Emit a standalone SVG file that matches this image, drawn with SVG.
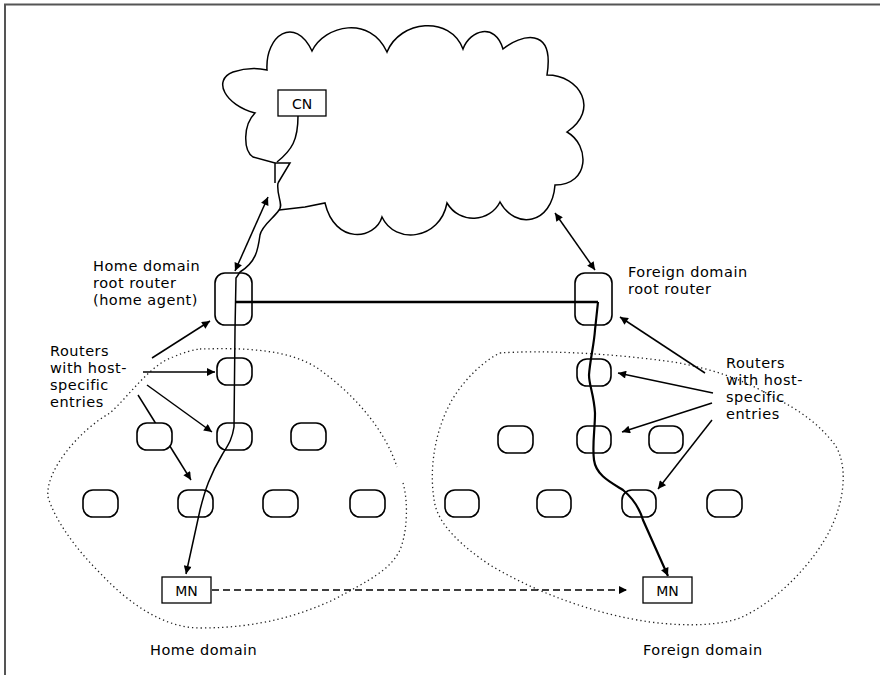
<svg xmlns="http://www.w3.org/2000/svg" width="880" height="675" viewBox="0 0 880 675">
<defs>
<style>
.t{font-family:"DejaVu Sans","Liberation Sans",sans-serif;font-size:14.5px;letter-spacing:0.5px;fill:#000}
.tb{font-family:"DejaVu Sans","Liberation Sans",sans-serif;font-size:14px;fill:#000}
.ln{fill:none;stroke:#000;stroke-width:1.5}
.rt{fill:#fff;stroke:#000;stroke-width:1.6}
.ro{fill:none;stroke:#000;stroke-width:1.6}
.box{fill:#fff;stroke:#000;stroke-width:1.3}
.dot{fill:none;stroke:#222;stroke-width:1.3;stroke-dasharray:1.3 3}
</style>
<marker id="ah" viewBox="0 0 10 10" refX="10" refY="5" markerWidth="10" markerHeight="8" markerUnits="userSpaceOnUse" orient="auto-start-reverse">
<path d="M0,0 L10,5 L0,10 z" fill="#000"/>
</marker>
</defs>
<rect width="880" height="675" fill="#fff"/>
<path d="M5,675 L5,4.5 L880,4.5" fill="none" stroke="#555" stroke-width="2"/>

<g id="domains">
<path class="dot" d="M200,349 C240,348 290,348 320,370 C355,395 385,430 397,467"/>
<path class="dot" d="M403,483 C408,500 408,530 400,550 C390,570 370,580 333,600 C300,615 260,628 200,628 C165,628 130,605 100,573 C75,548 55,520 48,497 C45,470 80,430 110,413 C130,395 150,365 173,357 C185,352 192,350 200,349"/>
<path class="dot" d="M500,353 C540,350 610,353 673,362 C710,368 745,380 773,397 C800,410 820,425 835,445 C848,465 845,500 830,530 C815,560 780,600 740,618 C720,625 690,627 650,622 C600,615 540,595 490,565 C460,545 440,525 435,505 C428,470 435,430 452,400 C465,378 485,360 500,353"/>
</g>

<g id="cloud">
<path class="ln" stroke-width="1.4" d="M279,210 L305,207 L325,203 C335,245 375,240 382,217 C395,245 440,240 447,203 C460,225 490,222 500,202 C515,230 552,225 555,185 C590,185 590,145 567,132 C600,110 580,75 547,75 C555,25 520,35 503,49 C495,22 470,30 463,49 C450,15 400,20 387,52 C370,15 325,25 312,51 C295,15 265,35 267,70 C258,68 245,68 233,72 C212,80 225,105 255,113 C243,125 243,150 253,157 L275,163 L290,163 L278,183 M275,163 L275,183"/>
</g>

<g id="connectors">
<path class="ln" d="M298,116 C298,140 292,150 277,162"/>
<path class="ln" d="M278,183 C276,195 284,205 279,210 C274,218 262,225 260,235 C258,250 256,262 240,272 L236,278 L235,330 L234,427 C232,440 228,445 222,455 C210,475 205,490 200,510 L186,574" marker-end="url(#ah)"/>
<path d="M235,302 L598,302" fill="none" stroke="#000" stroke-width="2.6"/>
<path fill="none" stroke="#000" stroke-width="2.2" d="M598,302 L595,330 C594,345 590,360 589,375 C589,385 594,395 595,413 C595,430 592,445 594,460 C596,475 610,482 623,490 C635,500 640,510 643,520 L668,576" marker-end="url(#ah)"/>
<path class="ln" d="M268,197 L235,271" marker-start="url(#ah)" marker-end="url(#ah)"/>
<path class="ln" d="M555,213 L595,270" marker-start="url(#ah)" marker-end="url(#ah)"/>
<path class="ln" d="M212,590 L627,590" stroke-dasharray="7 4" marker-end="url(#ah)"/>
<path class="ln" d="M152,358 L210,321" marker-end="url(#ah)"/>
<path class="ln" d="M143,372 L215,372" marker-end="url(#ah)"/>
<path class="ln" d="M147,385 L212,432" marker-end="url(#ah)"/>
<path class="ln" d="M138,395 L191,480" marker-end="url(#ah)"/>
<path class="ln" d="M705,373 L620,317" marker-end="url(#ah)"/>
<path class="ln" d="M713,393 L618,373" marker-end="url(#ah)"/>
<path class="ln" d="M712,403 L622,432" marker-end="url(#ah)"/>
<path class="ln" d="M712,420 L658,489" marker-end="url(#ah)"/>
</g>

<g id="cn"><rect class="box" x="278" y="90" width="48" height="26"/><text class="tb" x="302" y="108.5" text-anchor="middle">CN</text></g>
<g id="home-root"><rect class="ro" x="215" y="273" width="37" height="52" rx="10"/></g>
<g id="foreign-root"><rect class="ro" x="575" y="273" width="37" height="52" rx="10"/></g>

<g id="home-routers">
<rect id="h1" class="ro" x="217" y="358" width="35" height="27" rx="10"/>
<rect id="h2" class="rt" x="137" y="423" width="35" height="27" rx="10"/>
<rect id="h3" class="ro" x="217" y="423" width="35" height="27" rx="10"/>
<rect id="h4" class="rt" x="291" y="423" width="35" height="27" rx="10"/>
<rect id="h5" class="rt" x="83" y="490" width="35" height="27" rx="10"/>
<rect id="h6" class="ro" x="178" y="490" width="35" height="27" rx="10"/>
<rect id="h7" class="rt" x="263" y="490" width="35" height="27" rx="10"/>
<rect id="h8" class="rt" x="350" y="490" width="35" height="27" rx="10"/>
</g>
<g id="foreign-routers">
<rect id="f1" class="ro" x="577" y="359" width="34" height="27" rx="10"/>
<rect id="f2" class="rt" x="498" y="426" width="35" height="27" rx="10"/>
<rect id="f3" class="ro" x="577" y="426" width="34" height="27" rx="10"/>
<rect id="f4" class="rt" x="649" y="426" width="34" height="27" rx="10"/>
<rect id="f5" class="rt" x="445" y="490" width="34" height="27" rx="10"/>
<rect id="f6" class="rt" x="537" y="490" width="34" height="27" rx="10"/>
<rect id="f7" class="ro" x="622" y="490" width="34" height="27" rx="10"/>
<rect id="f8" class="rt" x="707" y="490" width="35" height="27" rx="10"/>
</g>

<g id="mn-home"><rect class="box" x="162" y="577" width="49" height="26"/><text class="tb" x="186.5" y="595.5" text-anchor="middle">MN</text></g>
<g id="mn-foreign"><rect class="box" x="643" y="577" width="49" height="26"/><text class="tb" x="667.5" y="595.5" text-anchor="middle">MN</text></g>

<g id="labels">
<text class="t" x="93" y="271">Home domain</text>
<text class="t" x="93" y="288">root router</text>
<text class="t" x="93" y="305">(home agent)</text>
<text class="t" x="628" y="277">Foreign domain</text>
<text class="t" x="628" y="294">root router</text>
<text class="t" x="50" y="356">Routers</text>
<text class="t" x="50" y="373">with host-</text>
<text class="t" x="50" y="390">specific</text>
<text class="t" x="50" y="407">entries</text>
<text class="t" x="726" y="368">Routers</text>
<text class="t" x="726" y="385">with host-</text>
<text class="t" x="726" y="402">specific</text>
<text class="t" x="726" y="419">entries</text>
<text class="t" x="150" y="655">Home domain</text>
<text class="t" x="643" y="655">Foreign domain</text>
</g>
</svg>
